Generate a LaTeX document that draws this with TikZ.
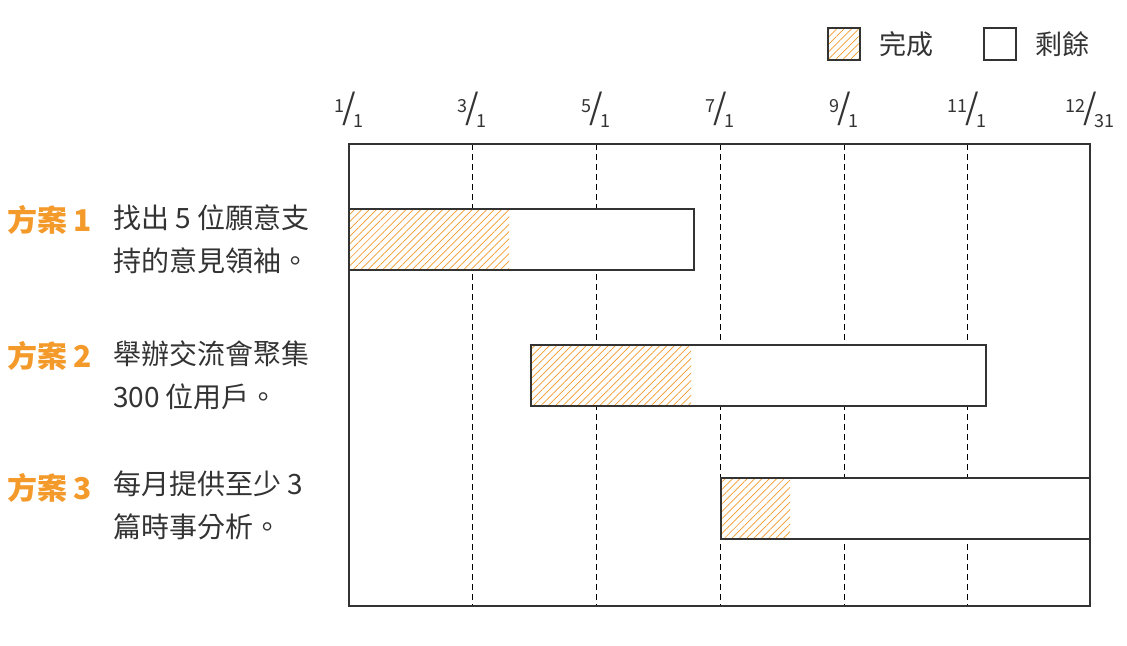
\documentclass[tikz,border=0pt]{standalone}
\usepackage{fontspec}
\setmainfont{Noto Sans CJK TC}
\usetikzlibrary{patterns.meta}
\definecolor{planorange}{HTML}{F39A2B}
\definecolor{ink}{HTML}{333333}
\tikzset{
  done/.style={pattern={Lines[angle=45,distance=2.6pt,line width=0.35pt]},pattern color=planorange},
  barbox/.style={draw=ink,line width=0.9pt},
  grid/.style={dashed,line width=0.5pt,dash pattern=on 3pt off 2pt},
  plan/.style={text=planorange,font=\fontsize{15}{17}\selectfont\bfseries,anchor=west},
  task/.style={text=ink,font=\fontsize{14}{21.5}\selectfont,anchor=north west,align=left},
  date/.style={text=ink,font=\fontsize{13}{14}\selectfont}
}
\newcommand{\datefrac}[2]{\raisebox{0.5ex}{\small#1}\hspace{-0.1em}{\LARGE/}\hspace{-0.1em}\raisebox{-0.6ex}{\small#2}}
\begin{document}
\begin{tikzpicture}[x=0.5pt,y=-0.5pt]
\useasboundingbox (0,0) rectangle (1127,645);

% Legend
\draw[done] (828,28) rectangle (860,60);
\draw[ink,line width=0.8pt] (828,28) rectangle (860,60);
\node[text=ink,font=\fontsize{13.5}{14}\selectfont,anchor=west] (legdone) at (872,44) {完成};
\draw[ink,line width=0.8pt] (984,28) rectangle (1016,60);
\node[text=ink,font=\fontsize{13.5}{14}\selectfont,anchor=west] (legleft) at (1028,44) {剩餘};

% Date labels
\foreach \x/\m/\d in {349/1/1,472/3/1,596/5/1,720/7/1,844/9/1,967/11/1,1090/12/31}
  \node[date] (d\m) at (\x,110) {\datefrac{\m}{\d}};

% Grid
\foreach \x in {472,596,720,844,967}
  \draw[grid] (\x,144) -- (\x,606);

% Bars
\fill[white] (349,209) rectangle (694,270);
\fill[done] (349,209) rectangle (509,270);
\draw[barbox] (349,209) rectangle (694,270);
\fill[white] (531,345) rectangle (986,406);
\fill[done] (531,345) rectangle (691,406);
\draw[barbox] (531,345) rectangle (986,406);
\fill[white] (721,478) rectangle (1090,539);
\fill[done] (721,478) rectangle (790,539);
\draw[barbox] (721,478) rectangle (1090,539);

% Frame
\draw[barbox] (349,144) rectangle (1090,606);

% Plans
\node[plan] (p1) at (0,220) {方案 1};
\node[task] (t1) at (106,198) {找出 5 位願意支\\持的意見領袖。};
\node[plan] (p2) at (0,356) {方案 2};
\node[task] (t2) at (106,334) {舉辦交流會聚集\\300 位用戶。};
\node[plan] (p3) at (0,488) {方案 3};
\node[task] (t3) at (106,464) {每月提供至少 3\\篇時事分析。};
\end{tikzpicture}
\end{document}
